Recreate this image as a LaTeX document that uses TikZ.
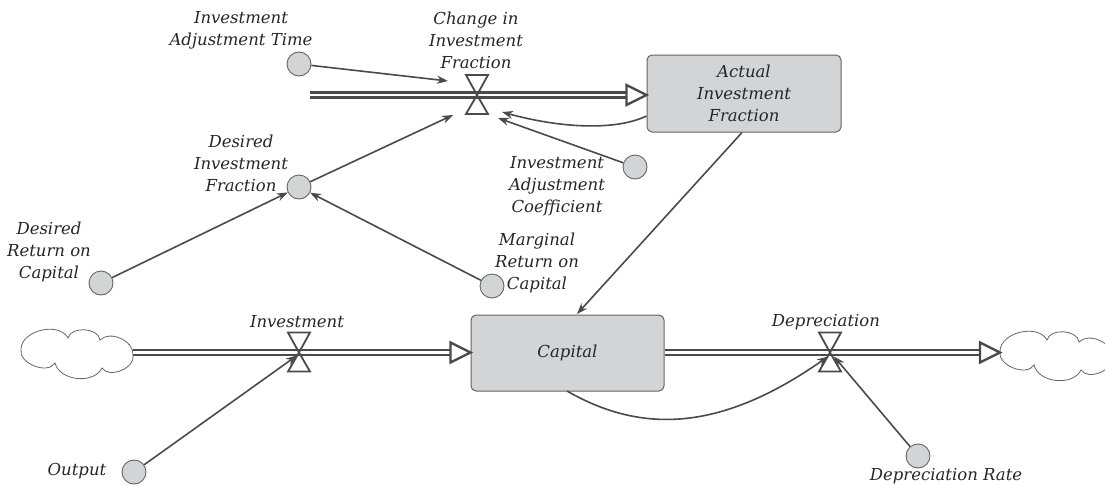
\documentclass[tikz,border=0pt]{standalone}
\usepackage{fontspec}
\setmainfont{DejaVu Serif}
\usetikzlibrary{arrows.meta,calc}
\definecolor{ln}{HTML}{4A4A4A}
\definecolor{fillg}{HTML}{D3D4D6}
\definecolor{txt}{HTML}{262626}
\tikzset{
  lbl/.style={align=center,text=txt,font=\fontsize{16.5pt}{22pt}\selectfont\itshape,inner sep=0pt},
  aux/.style={circle,draw=ln!85,line width=0.9pt,fill=fillg,minimum size=24pt,inner sep=0pt},
  stock/.style={rectangle,rounded corners=5pt,draw=ln!85,line width=1pt,fill=fillg,inner sep=0pt},
  conn/.style={draw=ln,line width=1.6pt,-{Stealth[length=11pt,width=8pt]}},
  pipe/.style={draw=ln,line width=2.4pt,double=white,double distance=2.4pt},
  headst/.style={draw=ln,line width=2.4pt,fill=white,line join=miter},
  valvest/.style={draw=ln,line width=1.8pt,line join=miter},
  cloudline/.style={draw=ln!85,line width=0.8pt,fill=white},
  valve/.pic={\draw[valvest] (-11,-20) -- (11,-20) -- (0,0) -- cycle;
              \draw[valvest] (-11,19) -- (11,19) -- (0,0) -- cycle;},
  cloudpic/.pic={\draw[cloudline] (-55,-4) to[bend left=75] (-8,-15) to[bend left=80] (24,-13)
     to[bend left=70] (57,2) to[bend left=80] (26,15) to[bend left=70] (-21,10) to[bend left=80] (-55,-4);}
}
\begin{document}
\begin{tikzpicture}[x=1pt,y=-1pt]
\useasboundingbox (0,0) rectangle (1105,485);
% stocks
\node[stock,minimum width=194pt,minimum height=77pt] (aif) at (744,93.5) {};
\node[lbl] at (aif.center) {Actual\\Investment\\Fraction};
\node[stock,minimum width=193pt,minimum height=76pt] (cap) at (567.5,353) {};
\node[lbl] at (cap.center) {Capital};
% clouds
\coordinate (cl) at (76,353);
\coordinate (cr) at (1055,355);
\pic at (cl) {cloudpic};
\pic at (cr) {cloudpic};
% auxiliaries
\node[aux] (iat) at (299,64) {};
\node[aux] (dif) at (299,187) {};
\node[aux] (drc) at (101,283) {};
\node[aux] (iac) at (635,167) {};
\node[aux] (mrc) at (492,286) {};
\node[aux] (out) at (134,472) {};
\node[aux] (dr) at (918,456) {};
% labels
\node[lbl] (iatl) at (241,30) {Investment\\Adjustment Time};
\node[lbl] (cifl) at (476,40) {Change in\\Investment\\Fraction};
\node[lbl] (iacl) at (557,186) {Investment\\Adjustment\\Coefficient};
\node[lbl] (difl) at (241,163) {Desired\\Investment\\Fraction};
\node[lbl] (drcl) at (49,252) {Desired\\Return on\\Capital};
\node[lbl] (mrcl) at (537,263) {Marginal\\Return on\\Capital};
\node[lbl] (invl) at (297,322) {Investment};
\node[lbl] (depl) at (826,322) {Depreciation};
\node[lbl] (outl) at (77,471) {Output};
\node[lbl] (drl) at (946,476) {Depreciation Rate};
% valve positions
\coordinate (cif) at (477,95);
\coordinate (inv) at (299,352.5);
\coordinate (dep) at (830,352.5);
\coordinate (src) at (310,95);
% pipes
\draw[pipe] (src) -- ($(aif.west |- cif)+(-19,0)$);
\draw[headst] ($(aif.west |- cif)+(-20,-10)$) -- (aif.west |- cif) -- ($(aif.west |- cif)+(-20,10)$) -- cycle;
\draw[pipe] ($(cl)+(57,-0.5)$) -- ($(cap.west |- inv)+(-19,0)$);
\draw[headst] ($(cap.west |- inv)+(-20,-10)$) -- (cap.west |- inv) -- ($(cap.west |- inv)+(-20,10)$) -- cycle;
\draw[pipe] (cap.east |- dep) -- ($(cr)+(-74,-2.5)$);
\draw[headst] ($(cr)+(-75,-12.5)$) -- ($(cr)+(-55,-2.5)$) -- ($(cr)+(-75,7.5)$) -- cycle;
% valves
\pic at (cif) {valve};
\pic at (inv) {valve};
\pic at (dep) {valve};
% connectors
\draw[conn] (iat) -- ($(cif)+(-29,-14)$);
\draw[conn] (dif) -- ($(cif)+(-24,20)$);
\draw[conn] (iac) -- ($(cif)+(21,23)$);
\draw[conn] (aif.west |- 0,116) .. controls (615,131) and (560,128) .. ($(cif)+(25,17)$);
\draw[conn] (drc) -- (dif);
\draw[conn] (mrc) -- (dif);
\draw[conn] (742,132.5) -- (577,314);
\draw[conn] (out) -- ($(inv)+(-2,3)$);
\draw[conn] (567,391) .. controls (640,433) and (719,433) .. ($(dep)+(-2,4)$);
\draw[conn] (dr) -- ($(dep)+(4,4)$);
\end{tikzpicture}
\end{document}
